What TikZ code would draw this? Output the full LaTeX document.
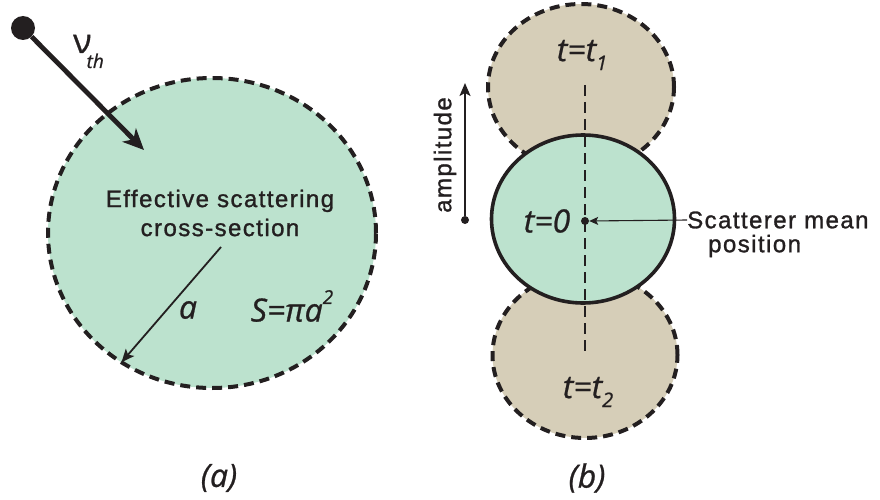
\documentclass[tikz,border=0pt]{standalone}
\usepackage{fontspec}
\newfontfamily\lab{Liberation Sans}[LetterSpace=6,FakeBold=1.2]
\newfontfamily\myr{Open Sans}[FakeBold=0.8]
\usetikzlibrary{arrows.meta,shapes.geometric}
\definecolor{mint}{RGB}{188,226,206}
\definecolor{sand}{RGB}{214,206,184}
\definecolor{ink}{RGB}{35,31,32}
\newcommand\subtx[1]{\raisebox{-0.28em}{\fontsize{20}{20}\selectfont #1}}
\newcommand\suptx[1]{\raisebox{0.55em}{\fontsize{19}{19}\selectfont #1}}
\begin{document}
\begin{tikzpicture}[x=1pt,y=-1pt,
  blob/.style={ellipse,inner sep=0pt,outer sep=0pt,draw=ink},
  dashring/.style={line width=4pt,dash pattern=on 10pt off 6pt},
  solidring/.style={line width=3.6pt},
  labtext/.style={font=\lab\fontsize{24}{29}\selectfont,text=ink,inner sep=0pt},
  ittext/.style={font=\myr\itshape\fontsize{32}{32}\selectfont,text=ink,inner sep=0pt},
  dot/.style={circle,fill=ink,inner sep=0pt,minimum size=8pt},
  thin arrow/.style={draw=ink,line width=1.8pt,-{Stealth[length=13pt,width=11pt,inset=3pt]}},
  fine arrow/.style={draw=ink,line width=1.1pt,-{Stealth[length=9pt,width=8pt,inset=2pt]}},
  bold arrow/.style={draw=ink,line width=4.8pt,-{Stealth[length=21pt,width=19pt,inset=6pt]}},
  vdash/.style={draw=ink,line width=2.6pt,dash pattern=on 11pt off 6pt}]
\useasboundingbox (0,0) rectangle (880,500);

% ---------- (a) ----------
\node[blob,fill=mint,dashring,minimum width=328pt,minimum height=310pt] (S) at (212,233) {};
\node[circle,fill=ink,inner sep=0pt,minimum size=24pt] (p) at (23,28) {};
\coordinate (vend) at (144,150);
\draw[bold arrow] (p) -- (vend);
\node[font=\myr\fontsize{34}{34}\selectfont,text=ink,inner sep=0pt,anchor=base west] (nu) at (73,53)
  {ν\kern-5pt\raisebox{-15pt}{\itshape\fontsize{19}{19}\selectfont th}};

\node[labtext,align=center] (eff) at (220,213) {Effective scattering\\cross-section};
\coordinate (astart) at (221,247);
\draw[thin arrow] (astart) -- (S.235);
\node[ittext] (alab) at (188,310) {a};
\node[ittext] (area) at (292,306) {S=πa\suptx{2}};

\node[ittext] (capa) at (219,478) {(a)};

% ---------- (b) ----------
\node[blob,fill=sand,dashring,minimum width=186pt,minimum height=166pt] (B1) at (581,87) {};
\node[blob,fill=sand,dashring,minimum width=185pt,minimum height=166pt] (B2) at (585,355) {};
\node[blob,fill=mint,solidring,minimum width=183pt,minimum height=168pt] (G) at (583,219) {};

\coordinate (vtop) at (585,85);
\coordinate (vbot) at (585,357);
\draw[vdash] (vtop) -- (vbot);
\node[dot] (c0) at (585,221) {};

\node[ittext] (t1) at (582,55) {t=t\subtx{1}};
\node[ittext] (t0) at (547,221) {t=0};
\node[ittext] (t2) at (588,392) {t=t\subtx{2}};

\node[dot] (amp0) at (465,220) {};
\coordinate (amp1) at (465,83);
\draw[thin arrow] (amp0) -- (amp1);
\node[labtext,rotate=90] (amptext) at (445,155) {amplitude};

\node[labtext,anchor=west] (sc) at (687,220) {Scatterer mean};
\node[labtext,anchor=west] (pos) at (708,246) {position};
\draw[fine arrow] (sc.west) -- (c0.east);

\node[ittext] (capb) at (587,478) {(b)};
\end{tikzpicture}
\end{document}
